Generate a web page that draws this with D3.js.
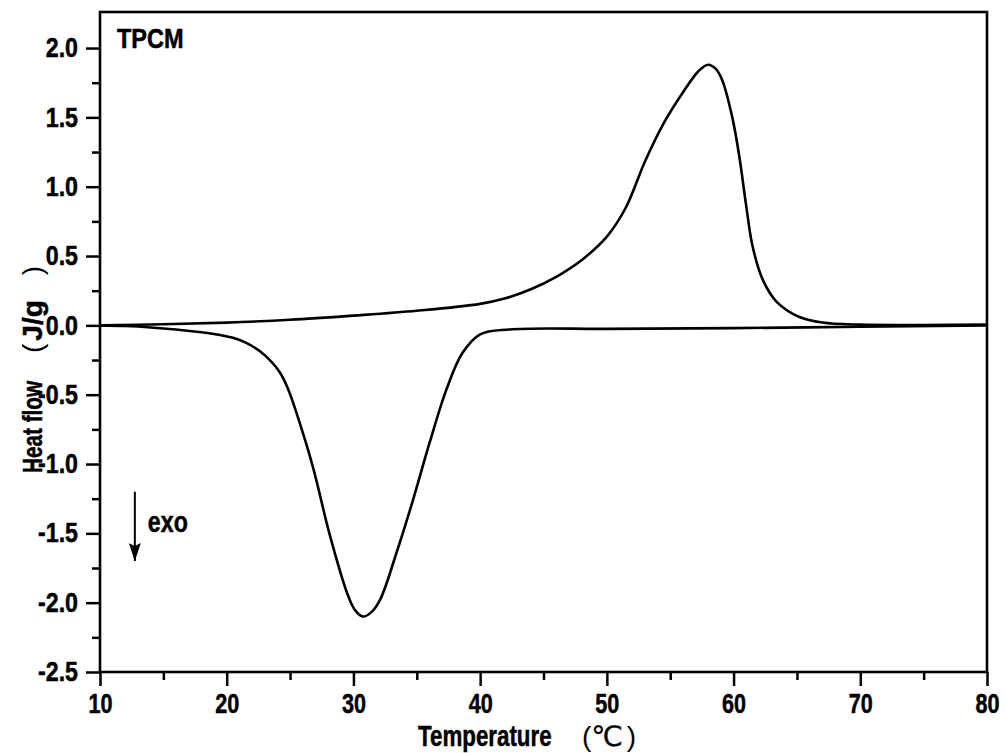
<!DOCTYPE html>
<html>
<head>
<meta charset="utf-8">
<script src="https://cdn.jsdelivr.net/npm/d3@7"></script>
<style>
  body { margin: 0; background: #fff; }
  svg text { font-family: "Liberation Sans", Arial, sans-serif; font-weight: bold; fill: #000; stroke: #000; stroke-width: 0.5; }
  svg text .thin { font-weight: normal; stroke-width: 0; }
  svg text .sym { font-family: "DejaVu Sans", sans-serif; font-weight: normal; stroke-width: 0.3; }
</style>
</head>
<body>
<svg id="chart" width="1005" height="753"></svg>
<script>
// heating run (endotherm, positive)
const heatTemp = [10, 15, 20, 25, 30, 35, 40, 42, 44, 46, 48, 50, 51.5, 53, 54.5, 56, 57.3, 58, 58.6, 59.1, 59.9, 60.45, 61, 61.5, 62.3, 63.4, 65.2, 67, 70, 75, 80];
const heatFlow = [0, 0.008, 0.02, 0.04, 0.07, 0.105, 0.155, 0.195, 0.26, 0.35, 0.47, 0.64, 0.85, 1.18, 1.46, 1.68, 1.84, 1.88, 1.85, 1.77, 1.5, 1.22, 0.86, 0.57, 0.33, 0.17, 0.06, 0.02, 0.005, 0.003, 0.005];

// cooling run (exotherm, negative)
const coolTemp = [10, 12, 14, 16, 18, 19.5, 20.5, 21.5, 22.6, 23.5, 24.2, 24.85, 25.5, 26.8, 28.1, 29.5, 30.1, 30.75, 31.4, 32.1, 33.4, 34.7, 36, 37.35, 38.6, 40, 42.3, 50, 60, 70, 80];
const coolFlow = [0, -0.005, -0.015, -0.03, -0.05, -0.07, -0.09, -0.125, -0.185, -0.26, -0.34, -0.46, -0.63, -1.02, -1.5, -1.93, -2.05, -2.1, -2.07, -1.98, -1.64, -1.26, -0.85, -0.46, -0.2, -0.065, -0.03, -0.025, -0.02, -0.01, 0];

const xTicks = [10, 20, 30, 40, 50, 60, 70, 80];
const xMinor = [15, 25, 35, 45, 55, 65, 75];
const yTicks = [-2.5, -2.0, -1.5, -1.0, -0.5, 0.0, 0.5, 1.0, 1.5, 2.0];
const yMinor = [-2.25, -1.75, -1.25, -0.75, -0.25, 0.25, 0.75, 1.25, 1.75];

const margin = { left: 100, top: 12, right: 18, bottom: 81 };
const width = 1005 - margin.left - margin.right;
const height = 753 - margin.top - margin.bottom;
const narrow = 0.8; // fake a narrow bold face

const svg = d3.select("#chart");
const g = svg.append("g").attr("transform", `translate(${margin.left},${margin.top})`);

const x = d3.scaleLinear().domain([10, 80]).range([0, width]);
const y = d3.scaleLinear().domain([-2.5, 2.26]).range([height, 0]);

// curves
const line = d3.line()
    .x(d => x(d[0]))
    .y(d => y(d[1]))
    .curve(d3.curveCatmullRom.alpha(0.5));

[d3.zip(coolTemp, coolFlow), d3.zip(heatTemp, heatFlow)].forEach(run => {
    g.append("path")
        .datum(run)
        .attr("d", line)
        .attr("fill", "none")
        .attr("stroke", "#000")
        .attr("stroke-width", 2.6);
});

// minor ticks
g.append("g")
    .attr("transform", `translate(0,${height})`)
    .call(d3.axisBottom(x).tickValues(xMinor).tickSize(8).tickFormat("").tickSizeOuter(0))
    .call(a => a.select(".domain").remove())
    .selectAll("line").attr("stroke-width", 2.5);

g.append("g")
    .call(d3.axisLeft(y).tickValues(yMinor).tickSize(8).tickFormat("").tickSizeOuter(0))
    .call(a => a.select(".domain").remove())
    .selectAll("line").attr("stroke-width", 2.5);

// major axes
const xAxis = g.append("g")
    .attr("transform", `translate(0,${height})`)
    .call(d3.axisBottom(x).tickValues(xTicks).tickSize(14).tickPadding(8).tickSizeOuter(0).tickFormat(d3.format("d")));
xAxis.select(".domain").remove();
xAxis.selectAll("line").attr("stroke-width", 2.5);
xAxis.selectAll("text")
    .attr("font-size", 27)
    .attr("fill", "#000")
    .attr("transform", `scale(${narrow},1)`);

const fmt = d3.format(".1f");
const yAxis = g.append("g")
    .call(d3.axisLeft(y).tickValues(yTicks).tickSize(14).tickPadding(8).tickSizeOuter(0)
        .tickFormat(d => fmt(d).replace("\u2212", "-")));
yAxis.select(".domain").remove();
yAxis.selectAll("line").attr("stroke-width", 2.5);
yAxis.selectAll("text")
    .attr("font-size", 27)
    .attr("fill", "#000")
    .attr("x", -22 / 0.86)
    .attr("transform", "scale(0.86,1)");

// frame
g.append("rect")
    .attr("width", width)
    .attr("height", height)
    .attr("fill", "none")
    .attr("stroke", "#000")
    .attr("stroke-width", 2.6);

// sample label
g.append("text")
    .attr("transform", "translate(17,36) scale(0.87,1)")
    .attr("font-size", 27)
    .text("TPCM");

// exo arrow
svg.append("defs").append("marker")
    .attr("id", "arrow")
    .attr("viewBox", "0 0 18 12")
    .attr("refX", 18).attr("refY", 6)
    .attr("markerWidth", 18).attr("markerHeight", 12)
    .attr("markerUnits", "userSpaceOnUse")
    .attr("orient", "auto")
    .append("path")
    .attr("d", "M0,0L18,6L0,12L3,6Z")
    .attr("fill", "#000");

const arrowX = x(12.75);
g.append("line")
    .attr("x1", arrowX).attr("x2", arrowX)
    .attr("y1", y(-1.2)).attr("y2", y(-1.7))
    .attr("stroke", "#000")
    .attr("stroke-width", 2)
    .attr("marker-end", "url(#arrow)");

g.append("text")
    .attr("transform", `translate(${arrowX + 13},${y(-1.49)}) scale(${narrow},1)`)
    .attr("font-size", 29)
    .text("exo");

// axis titles
svg.append("text")
    .attr("transform", "translate(418,746) scale(0.77,1)")
    .attr("font-size", 29)
    .text("Temperature");
svg.append("text")
    .attr("x", 582)
    .attr("y", 746)
    .attr("font-size", 28)
    .call(t => {
        t.append("tspan").attr("class", "thin").text("(");
        t.append("tspan").attr("class", "sym").text("\u2103");
        t.append("tspan").attr("class", "thin").attr("dx", 4).text(")");
    });

svg.append("text")
    .attr("transform", "translate(42,473) rotate(-90) scale(0.74,1)")
    .attr("font-size", 28)
    .text("Heat flow");
svg.append("text")
    .attr("transform", "translate(42,353) rotate(-90)")
    .attr("font-size", 28)
    .call(t => {
        t.append("tspan").attr("class", "thin").text("(");
        t.append("tspan").attr("dx", 3).text("J/g");
        t.append("tspan").attr("class", "thin").attr("dx", 25).text(")");
    });
</script>
</body>
</html>
